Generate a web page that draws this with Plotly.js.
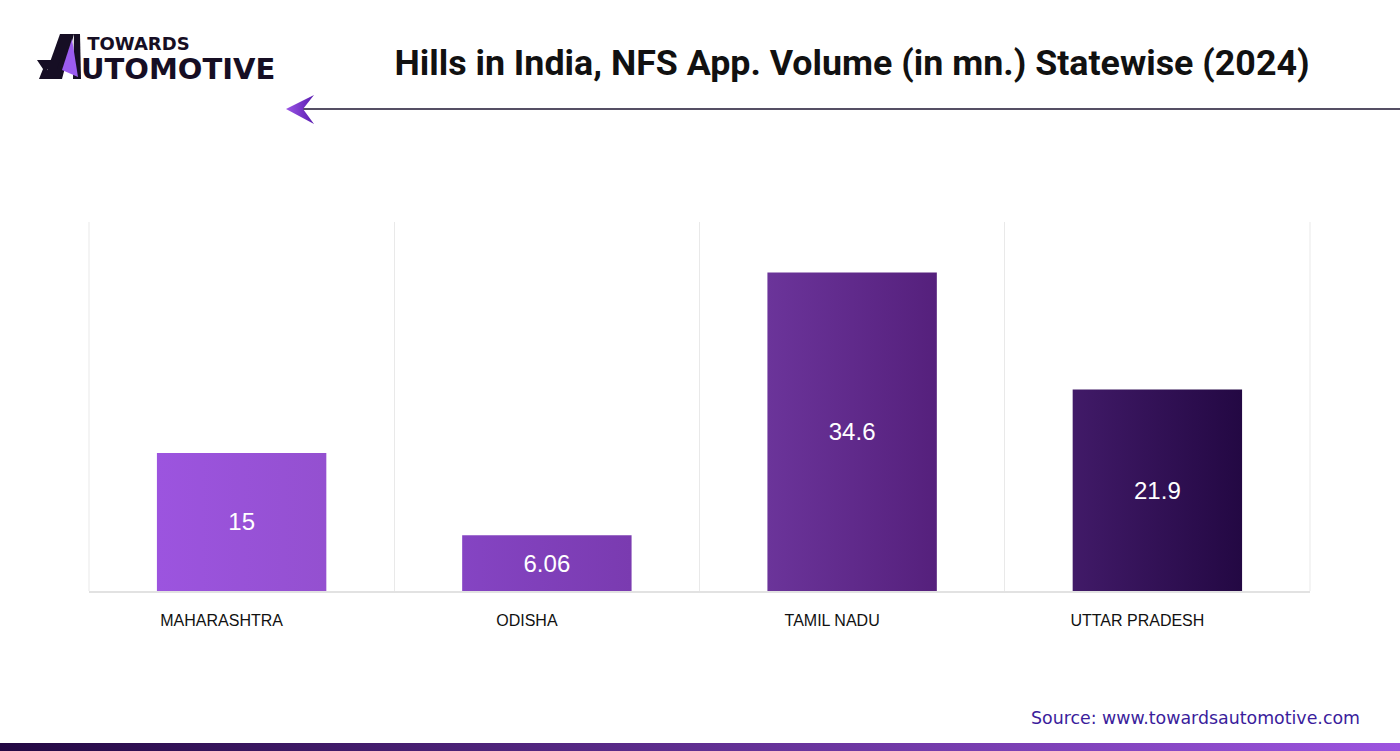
<!DOCTYPE html>
<html>
<head>
<meta charset="utf-8">
<script src="https://cdn.plot.ly/plotly-3.0.1.min.js"></script>
<style>
  html, body { margin: 0; padding: 0; background: #ffffff; }
  #chart { width: 1400px; height: 751px; }
</style>
</head>
<body>
<div id="chart"></div>
<script>
// ---- data ----
const states = ["MAHARASHTRA", "ODISHA", "TAMIL NADU", "UTTAR PRADESH"];
const volumes = [15, 6.06, 34.6, 21.9];
const valueLabels = ["15", "6.06", "34.6", "21.9"];

// ---- styling ----
const barLeft  = ["#9c54df", "#8544c3", "#6b349a", "#411a68"];
const barRight = ["#9450d0", "#7a3bb0", "#55207c", "#230843"];
const barFill  = ["#9852d7", "#7f3fb9", "#5f2a8a", "#311155"];

// plot area in pixels: left 89, right 1310, top 222, bottom 591
const L = 89, R = 1310, T = 222, B = 591;
const W = R - L, H = B - T;
const px = x => (x - L) / W;
const py = y => (B - y) / H;
const pathOf = pts => "M " + pts.map(p => px(p[0]).toFixed(5) + " " + py(p[1]).toFixed(5)).join(" L ") + " Z";

const shapes = [
  // header rule line
  {type: "line", xref: "paper", yref: "paper", x0: px(300), x1: px(1400), y0: py(109), y1: py(109),
   line: {color: "#1c1530", width: 1.5}},
  // arrow head
  {type: "path", xref: "paper", yref: "paper", path: pathOf([[286,109],[314,95],[303,109],[314,124]]),
   fillcolor: "#7a35d0", line: {width: 0}},
  // logo pieces
  {type: "path", xref: "paper", yref: "paper", path: pathOf([[60,34],[74,34],[62,79],[44,79]]),
   fillcolor: "#160e24", line: {width: 0}},
  {type: "path", xref: "paper", yref: "paper", path: pathOf([[37,60],[60,60],[57,69],[47,69],[50,79],[39,79],[43,69]]),
   fillcolor: "#160e24", line: {width: 0}},
  {type: "path", xref: "paper", yref: "paper", path: pathOf([[74,34],[80,34],[81,79],[73,79]]),
   fillcolor: "#160e24", line: {width: 0}},
  {type: "path", xref: "paper", yref: "paper", path: pathOf([[72,39],[78,77],[62,70]]),
   fillcolor: "#9b5cf0", line: {width: 0}},
  // plot frame edges (light)
  {type: "line", xref: "paper", yref: "paper", x0: 0, x1: 0, y0: 0, y1: 1, line: {color: "#e9e9e9", width: 1}},
  {type: "line", xref: "paper", yref: "paper", x0: 1, x1: 1, y0: 0, y1: 1, line: {color: "#e9e9e9", width: 1}},
  // bottom gradient band
  {type: "rect", xref: "paper", yref: "paper", x0: px(0), x1: px(1400), y0: py(751), y1: py(743),
   fillcolor: "#5e2a8f", line: {width: 0}, layer: "above"}
];

const trace = {
  type: "bar",
  x: states,
  y: volumes,
  text: valueLabels,
  textposition: "inside",
  insidetextanchor: "middle",
  textangle: 0,
  texttemplate: "%{text}",
  textfont: {family: "Liberation Sans, Arial, sans-serif", size: 24, color: "#ffffff"},
  marker: {color: barFill, line: {width: 0}},
  hoverinfo: "skip",
  cliponaxis: false
};

const layout = {
  width: 1400, height: 751,
  paper_bgcolor: "#ffffff", plot_bgcolor: "#ffffff",
  margin: {l: L, r: 1400 - R, t: T, b: 751 - B, pad: 0},
  showlegend: false,
  bargap: 0.445,
  title: {
    text: "<b>Hills in India, NFS App. Volume (in mn.) Statewise (2024)</b>",
    font: {family: "Roboto, Liberation Sans, sans-serif", size: 35.8, color: "#111111"},
    x: 852 / 1400, xanchor: "center", xref: "container",
    y: 1 - 62 / 751, yanchor: "middle", yref: "container"
  },
  xaxis: {
    type: "category",
    tickson: "boundaries",
    showgrid: true, gridcolor: "#e9e9e9", gridwidth: 1,
    showline: true, linecolor: "#e2e2e2", linewidth: 1.5,
    ticks: "outside", ticklen: 17, tickcolor: "rgba(0,0,0,0)",
    ticklabelstandoff: 14,
    ticklabelshift: -20,
    tickfont: {family: "Liberation Sans, Arial, sans-serif", size: 16, color: "#111111", weight: 500},
    fixedrange: true
  },
  yaxis: {
    range: [0, 40.1],
    showgrid: false, zeroline: false, showline: false,
    showticklabels: false, ticks: "",
    fixedrange: true
  },
  shapes: shapes,
  annotations: [
    {xref: "paper", yref: "paper", x: px(79), y: py(58), xanchor: "left", yanchor: "middle",
     align: "left",
     text: "<span style='font-size:18px'><b>&#160;TOWARDS</b></span><br><b>UTOMOTIVE</b>", showarrow: false,
     font: {family: "DejaVu Sans, sans-serif", size: 22.5, color: "#160e24"}},
    {xref: "paper", yref: "paper", x: px(1362), y: py(718), xanchor: "right", yanchor: "middle",
     text: "Source: www.towardsautomotive.com", showarrow: false,
     font: {family: "DejaVu Sans, sans-serif", size: 17.4, color: "#3b1d9c"}}
  ]
};

function addGradient(defs, id, c0, c1) {
  const ns = "http://www.w3.org/2000/svg";
  const g = document.createElementNS(ns, "linearGradient");
  g.setAttribute("id", id);
  g.setAttribute("x1", "0"); g.setAttribute("y1", "0");
  g.setAttribute("x2", "1"); g.setAttribute("y2", "0");
  [[0, c0], [1, c1]].forEach(([o, c]) => {
    const s = document.createElementNS(ns, "stop");
    s.setAttribute("offset", String(o));
    s.setAttribute("stop-color", c);
    g.appendChild(s);
  });
  defs.appendChild(g);
}

Plotly.newPlot("chart", [trace], layout, {staticPlot: true, displayModeBar: false}).then(gd => {
  // make the second logo line larger, keeping a 29px line step
  gd.querySelectorAll(".annotation-text tspan").forEach(t => {
    if (t.textContent.indexOf("UTOMOTIVE") >= 0) {
      t.style.fontSize = "29px";
      if (t.classList.contains("line")) t.setAttribute("dy", "1em");
    }
  });
  const defs = gd.querySelector("svg.main-svg defs");
  if (!defs) return;
  barLeft.forEach((c, i) => addGradient(defs, "barGrad" + i, c, barRight[i]));
  addGradient(defs, "bandGrad", "#230843", "#9c54df");
  addGradient(defs, "arrowGrad", "#9b55e6", "#5a1db0");
  gd.querySelectorAll(".barlayer .point path").forEach((p, i) => {
    p.style.fill = "url(#barGrad" + i + ")";
  });
  gd.querySelectorAll(".shapelayer path").forEach(p => {
    const idx = p.getAttribute("data-index");
    if (idx === "8") p.style.fill = "url(#bandGrad)";
    if (idx === "1") p.style.fill = "url(#arrowGrad)";
  });
});
</script>
</body>
</html>
